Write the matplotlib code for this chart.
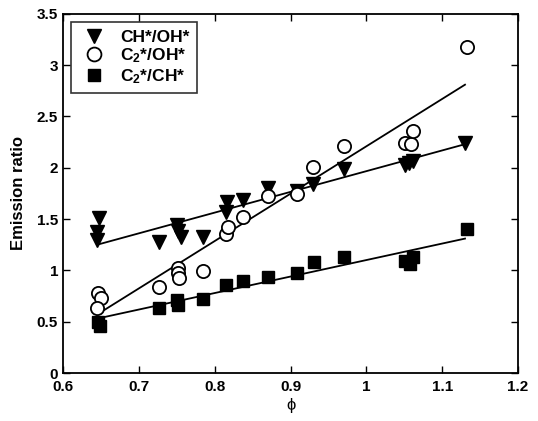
import numpy as np
import matplotlib
matplotlib.use("Agg")
import matplotlib.pyplot as plt

plt.rcParams["font.family"] = ["Liberation Sans", "DejaVu Sans"]
plt.rcParams["font.weight"] = "bold"
plt.rcParams["mathtext.fontset"] = "custom"
plt.rcParams["mathtext.rm"] = "Liberation Sans:bold"
plt.rcParams["mathtext.bf"] = "Liberation Sans:bold"
plt.rcParams["mathtext.default"] = "bf"

# CH*/OH*
ch_oh_phi = [0.647, 0.645, 0.645, 0.727, 0.750, 0.752, 0.755, 0.785, 0.815, 0.816,
             0.837, 0.870, 0.909, 0.930, 0.971, 1.051, 1.056, 1.062, 1.130]
ch_oh_val = [1.51, 1.37, 1.30, 1.28, 1.44, 1.38, 1.33, 1.33, 1.57, 1.67,
             1.69, 1.80, 1.77, 1.84, 1.99, 2.03, 2.05, 2.07, 2.24]

# C2*/OH*
c2_oh_phi = [0.646, 0.650, 0.645, 0.727, 0.752, 0.752, 0.753, 0.785, 0.815, 0.817,
             0.837, 0.870, 0.909, 0.930, 0.971, 1.051, 1.059, 1.062, 1.132]
c2_oh_val = [0.78, 0.73, 0.63, 0.84, 1.02, 0.97, 0.93, 0.99, 1.35, 1.42,
             1.52, 1.73, 1.74, 2.01, 2.21, 2.24, 2.23, 2.36, 3.18]

# C2*/CH*
c2_ch_phi = [0.646, 0.649, 0.727, 0.750, 0.752, 0.785, 0.815, 0.837, 0.870, 0.909,
             0.931, 0.971, 1.051, 1.058, 1.062, 1.132]
c2_ch_val = [0.50, 0.46, 0.63, 0.71, 0.66, 0.72, 0.86, 0.90, 0.94, 0.97,
             1.08, 1.13, 1.09, 1.06, 1.13, 1.40]

# fitted lines (end points)
fit_phi = [0.645, 1.13]
fit_ch_oh = [1.25, 2.23]
fit_c2_oh = [0.57, 2.81]
fit_c2_ch = [0.53, 1.31]

fig = plt.figure(figsize=(5.38, 4.21), dpi=100)
ax = fig.add_axes([0.117, 0.114, 0.846, 0.853])

ax.plot(fit_phi, fit_ch_oh, color="black", lw=1.3)
ax.plot(fit_phi, fit_c2_oh, color="black", lw=1.3)
ax.plot(fit_phi, fit_c2_ch, color="black", lw=1.3)

ax.plot(ch_oh_phi, ch_oh_val, linestyle="none", marker="v", ms=9.5,
        mfc="black", mec="black", label="CH*/OH*")
ax.plot(c2_oh_phi, c2_oh_val, linestyle="none", marker="o", ms=9.5,
        mfc="white", mec="black", mew=1.3, label=r"C$_2$*/OH*")
ax.plot(c2_ch_phi, c2_ch_val, linestyle="none", marker="s", ms=8,
        mfc="black", mec="black", label=r"C$_2$*/CH*")

ax.set_xlim(0.6, 1.2)
ax.set_ylim(0, 3.5)
ax.set_xticks(np.arange(0.6, 1.21, 0.1))
ax.set_xticklabels(["0.6", "0.7", "0.8", "0.9", "1", "1.1", "1.2"])
ax.set_yticks(np.arange(0, 3.51, 0.5))
ax.set_yticklabels(["0", "0.5", "1", "1.5", "2", "2.5", "3", "3.5"])
ax.tick_params(direction="in", top=True, right=True, length=5, width=1,
               labelsize=11)
ax.tick_params(axis="x", pad=5)
for sp in ax.spines.values():
    sp.set_linewidth(1.3)

ax.set_xlabel("\u03d5", fontsize=12, labelpad=3)
ax.set_ylabel("Emission ratio", fontsize=12, fontweight="bold", labelpad=8)

leg = ax.legend(loc="upper left", fontsize=12.5, frameon=True, fancybox=False,
                edgecolor="black", borderaxespad=0.45, handletextpad=0.6,
                handlelength=1.8, labelspacing=0.1, borderpad=0.45,
                numpoints=1, markerscale=1.05)
leg.get_frame().set_linewidth(1.2)

fig.savefig("out.png", dpi=100)
